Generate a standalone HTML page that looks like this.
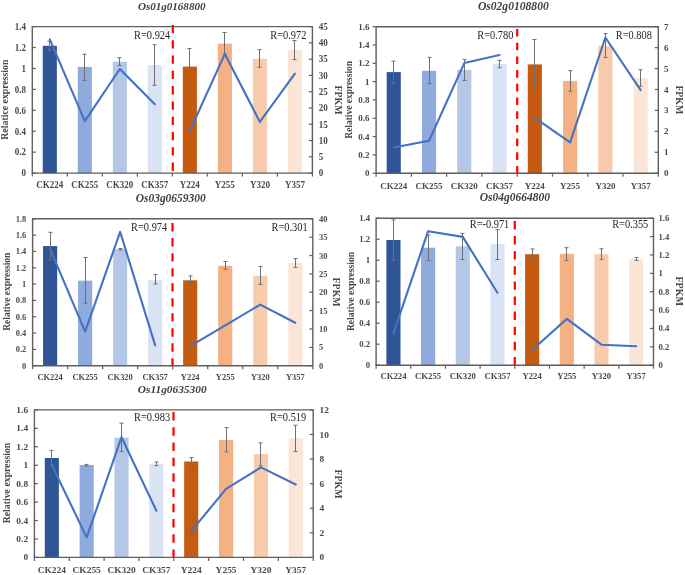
<!DOCTYPE html>
<html><head><meta charset="utf-8"><style>
html,body{margin:0;padding:0;background:#fff;width:685px;height:575px;overflow:hidden}
svg{display:block;will-change:transform}
text{font-family:"Liberation Serif", serif}
</style></head><body>
<svg width="685" height="575" viewBox="0 0 685 575">
<rect width="685" height="575" fill="#fff"/>
<g><rect x="42.76" y="45.8" width="14.1" height="127.3" fill="#2F5597"/><rect x="77.77" y="66.9" width="14.1" height="106.2" fill="#8FAADC"/><rect x="112.78" y="61.6" width="14.1" height="111.5" fill="#B4C7E7"/><rect x="147.79" y="65.1" width="14.1" height="108" fill="#DAE3F3"/><rect x="182.81" y="66.6" width="14.1" height="106.5" fill="#C55A11"/><rect x="217.82" y="43.6" width="14.1" height="129.5" fill="#F4B183"/><rect x="252.83" y="58.8" width="14.1" height="114.3" fill="#F8CBAD"/><rect x="287.84" y="50.2" width="14.1" height="122.9" fill="#FBE5D6"/><path d="M49.5 41.2V50.2M47.5 41.2H51.5M47.5 50.2H51.5" stroke="#707070" stroke-width="1" fill="none"/><path d="M84.5 54.2V80.4M82.5 54.2H86.5M82.5 80.4H86.5" stroke="#707070" stroke-width="1" fill="none"/><path d="M119.5 57.7V65.5M117.5 57.7H121.5M117.5 65.5H121.5" stroke="#707070" stroke-width="1" fill="none"/><path d="M154.5 44.7V85.3M152.5 44.7H156.5M152.5 85.3H156.5" stroke="#707070" stroke-width="1" fill="none"/><path d="M189.5 48.5V84.8M187.5 48.5H191.5M187.5 84.8H191.5" stroke="#707070" stroke-width="1" fill="none"/><path d="M224.5 32.5V53.9M222.5 32.5H226.5M222.5 53.9H226.5" stroke="#707070" stroke-width="1" fill="none"/><path d="M259.5 49.6V67.3M257.5 49.6H261.5M257.5 67.3H261.5" stroke="#707070" stroke-width="1" fill="none"/><path d="M294.5 40.6V59.6M292.5 40.6H296.5M292.5 59.6H296.5" stroke="#707070" stroke-width="1" fill="none"/><polyline points="49.81,39.3 84.82,121.2 119.83,69 154.84,104.3" fill="none" stroke="#4472C4" stroke-width="2.1" stroke-linejoin="round" stroke-linecap="round"/><polyline points="189.86,130.7 224.87,53.9 259.88,121.9 294.89,73.6" fill="none" stroke="#4472C4" stroke-width="2.1" stroke-linejoin="round" stroke-linecap="round"/><path d="M32.3 26.6V173.1H312.4V26.6Z" fill="none" stroke="#5F5F5F" stroke-width="1.4"/><path d="M32.3 173.1h3.5" stroke="#5F5F5F" stroke-width="1.2"/><text transform="translate(26 176.36) scale(0.94 1)" text-anchor="end" font-size="9.6" font-weight="bold" fill="#4A4A4A">0</text><path d="M32.3 152.17h3.5" stroke="#5F5F5F" stroke-width="1.2"/><text transform="translate(26 155.44) scale(0.94 1)" text-anchor="end" font-size="9.6" font-weight="bold" fill="#4A4A4A">0.2</text><path d="M32.3 131.24h3.5" stroke="#5F5F5F" stroke-width="1.2"/><text transform="translate(26 134.51) scale(0.94 1)" text-anchor="end" font-size="9.6" font-weight="bold" fill="#4A4A4A">0.4</text><path d="M32.3 110.31h3.5" stroke="#5F5F5F" stroke-width="1.2"/><text transform="translate(26 113.58) scale(0.94 1)" text-anchor="end" font-size="9.6" font-weight="bold" fill="#4A4A4A">0.6</text><path d="M32.3 89.39h3.5" stroke="#5F5F5F" stroke-width="1.2"/><text transform="translate(26 92.65) scale(0.94 1)" text-anchor="end" font-size="9.6" font-weight="bold" fill="#4A4A4A">0.8</text><path d="M32.3 68.46h3.5" stroke="#5F5F5F" stroke-width="1.2"/><text transform="translate(26 71.72) scale(0.94 1)" text-anchor="end" font-size="9.6" font-weight="bold" fill="#4A4A4A">1</text><path d="M32.3 47.53h3.5" stroke="#5F5F5F" stroke-width="1.2"/><text transform="translate(26 50.79) scale(0.94 1)" text-anchor="end" font-size="9.6" font-weight="bold" fill="#4A4A4A">1.2</text><path d="M32.3 26.6h3.5" stroke="#5F5F5F" stroke-width="1.2"/><text transform="translate(26 29.86) scale(0.94 1)" text-anchor="end" font-size="9.6" font-weight="bold" fill="#4A4A4A">1.4</text><path d="M312.4 173.1h-3.5" stroke="#5F5F5F" stroke-width="1.2"/><text transform="translate(318.7 176.36) scale(0.94 1)" text-anchor="start" font-size="9.6" font-weight="bold" fill="#4A4A4A">0</text><path d="M312.4 156.82h-3.5" stroke="#5F5F5F" stroke-width="1.2"/><text transform="translate(318.7 160.09) scale(0.94 1)" text-anchor="start" font-size="9.6" font-weight="bold" fill="#4A4A4A">5</text><path d="M312.4 140.54h-3.5" stroke="#5F5F5F" stroke-width="1.2"/><text transform="translate(318.7 143.81) scale(0.94 1)" text-anchor="start" font-size="9.6" font-weight="bold" fill="#4A4A4A">10</text><path d="M312.4 124.27h-3.5" stroke="#5F5F5F" stroke-width="1.2"/><text transform="translate(318.7 127.53) scale(0.94 1)" text-anchor="start" font-size="9.6" font-weight="bold" fill="#4A4A4A">15</text><path d="M312.4 107.99h-3.5" stroke="#5F5F5F" stroke-width="1.2"/><text transform="translate(318.7 111.25) scale(0.94 1)" text-anchor="start" font-size="9.6" font-weight="bold" fill="#4A4A4A">20</text><path d="M312.4 91.71h-3.5" stroke="#5F5F5F" stroke-width="1.2"/><text transform="translate(318.7 94.98) scale(0.94 1)" text-anchor="start" font-size="9.6" font-weight="bold" fill="#4A4A4A">25</text><path d="M312.4 75.43h-3.5" stroke="#5F5F5F" stroke-width="1.2"/><text transform="translate(318.7 78.7) scale(0.94 1)" text-anchor="start" font-size="9.6" font-weight="bold" fill="#4A4A4A">30</text><path d="M312.4 59.16h-3.5" stroke="#5F5F5F" stroke-width="1.2"/><text transform="translate(318.7 62.42) scale(0.94 1)" text-anchor="start" font-size="9.6" font-weight="bold" fill="#4A4A4A">35</text><path d="M312.4 42.88h-3.5" stroke="#5F5F5F" stroke-width="1.2"/><text transform="translate(318.7 46.14) scale(0.94 1)" text-anchor="start" font-size="9.6" font-weight="bold" fill="#4A4A4A">40</text><path d="M312.4 26.6h-3.5" stroke="#5F5F5F" stroke-width="1.2"/><text transform="translate(318.7 29.86) scale(0.94 1)" text-anchor="start" font-size="9.6" font-weight="bold" fill="#4A4A4A">45</text><path d="M32.3 173.1v3.5" stroke="#5F5F5F" stroke-width="1.2"/><path d="M67.31 173.1v3.5" stroke="#5F5F5F" stroke-width="1.2"/><path d="M102.32 173.1v3.5" stroke="#5F5F5F" stroke-width="1.2"/><path d="M137.34 173.1v3.5" stroke="#5F5F5F" stroke-width="1.2"/><path d="M172.35 173.1v3.5" stroke="#5F5F5F" stroke-width="1.2"/><path d="M207.36 173.1v3.5" stroke="#5F5F5F" stroke-width="1.2"/><path d="M242.38 173.1v3.5" stroke="#5F5F5F" stroke-width="1.2"/><path d="M277.39 173.1v3.5" stroke="#5F5F5F" stroke-width="1.2"/><path d="M312.4 173.1v3.5" stroke="#5F5F5F" stroke-width="1.2"/><text transform="translate(49.81 188.2) scale(0.94 1)" text-anchor="middle" font-size="9.6" font-weight="bold" fill="#4A4A4A">CK224</text><text transform="translate(84.82 188.2) scale(0.94 1)" text-anchor="middle" font-size="9.6" font-weight="bold" fill="#4A4A4A">CK255</text><text transform="translate(119.83 188.2) scale(0.94 1)" text-anchor="middle" font-size="9.6" font-weight="bold" fill="#4A4A4A">CK320</text><text transform="translate(154.84 188.2) scale(0.94 1)" text-anchor="middle" font-size="9.6" font-weight="bold" fill="#4A4A4A">CK357</text><text transform="translate(189.86 188.2) scale(0.94 1)" text-anchor="middle" font-size="9.6" font-weight="bold" fill="#4A4A4A">Y224</text><text transform="translate(224.87 188.2) scale(0.94 1)" text-anchor="middle" font-size="9.6" font-weight="bold" fill="#4A4A4A">Y255</text><text transform="translate(259.88 188.2) scale(0.94 1)" text-anchor="middle" font-size="9.6" font-weight="bold" fill="#4A4A4A">Y320</text><text transform="translate(294.89 188.2) scale(0.94 1)" text-anchor="middle" font-size="9.6" font-weight="bold" fill="#4A4A4A">Y357</text><path d="M172.8 24.9V173.1" stroke="#FF0000" stroke-width="2.2" stroke-dasharray="8.3 7"/><text transform="translate(170.2 39) scale(0.88 1)" text-anchor="end" font-size="11.8" fill="#262626">R=0.924</text><text transform="translate(306.4 39) scale(0.88 1)" text-anchor="end" font-size="11.8" fill="#262626">R=0.972</text><text transform="translate(171.7 9.7)" text-anchor="middle" font-size="11.05" font-weight="bold" font-style="italic" fill="#404040">Os01g0168800</text><text transform="translate(8.4 99.6) rotate(-90)" text-anchor="middle" font-size="9.8" font-weight="bold" fill="#4A4A4A">Relatice expression</text><text transform="translate(335 100) rotate(90)" text-anchor="middle" font-size="9.8" font-weight="bold" fill="#4A4A4A">FPKM</text></g>
<g><rect x="386.69" y="72.1" width="14.1" height="101.1" fill="#2F5597"/><rect x="421.96" y="70.8" width="14.1" height="102.4" fill="#8FAADC"/><rect x="457.24" y="69.9" width="14.1" height="103.3" fill="#B4C7E7"/><rect x="492.51" y="63.8" width="14.1" height="109.4" fill="#DAE3F3"/><rect x="527.79" y="64.4" width="14.1" height="108.8" fill="#C55A11"/><rect x="563.06" y="80.9" width="14.1" height="92.3" fill="#F4B183"/><rect x="598.34" y="45.8" width="14.1" height="127.4" fill="#F8CBAD"/><rect x="633.61" y="78" width="14.1" height="95.2" fill="#FBE5D6"/><path d="M393.5 61.2V83.5M391.5 61.2H395.5M391.5 83.5H395.5" stroke="#707070" stroke-width="1" fill="none"/><path d="M429.5 57.4V83.5M427.5 57.4H431.5M427.5 83.5H431.5" stroke="#707070" stroke-width="1" fill="none"/><path d="M464.5 59.4V80.4M462.5 59.4H466.5M462.5 80.4H466.5" stroke="#707070" stroke-width="1" fill="none"/><path d="M499.5 60.3V67.7M497.5 60.3H501.5M497.5 67.7H501.5" stroke="#707070" stroke-width="1" fill="none"/><path d="M534.5 39.5V89.2M532.5 39.5H536.5M532.5 89.2H536.5" stroke="#707070" stroke-width="1" fill="none"/><path d="M570.5 70.6V91.2M568.5 70.6H572.5M568.5 91.2H572.5" stroke="#707070" stroke-width="1" fill="none"/><path d="M605.5 33.6V57.4M603.5 33.6H607.5M603.5 57.4H607.5" stroke="#707070" stroke-width="1" fill="none"/><path d="M640.5 69.7V86.3M638.5 69.7H642.5M638.5 86.3H642.5" stroke="#707070" stroke-width="1" fill="none"/><polyline points="393.74,147.5 429.01,140.7 464.29,63.1 499.56,55" fill="none" stroke="#4472C4" stroke-width="2.1" stroke-linejoin="round" stroke-linecap="round"/><polyline points="534.84,117.9 570.11,142.4 605.39,37.5 640.66,90.1" fill="none" stroke="#4472C4" stroke-width="2.1" stroke-linejoin="round" stroke-linecap="round"/><path d="M376.1 26.7V173.2H658.3V26.7Z" fill="none" stroke="#5F5F5F" stroke-width="1.4"/><path d="M376.1 173.2h-3.5" stroke="#5F5F5F" stroke-width="1.2"/><text transform="translate(369.4 176.26) scale(1.0 1)" text-anchor="end" font-size="9.0" font-weight="bold" fill="#4A4A4A">0</text><path d="M376.1 154.89h-3.5" stroke="#5F5F5F" stroke-width="1.2"/><text transform="translate(369.4 157.95) scale(1.0 1)" text-anchor="end" font-size="9.0" font-weight="bold" fill="#4A4A4A">0.2</text><path d="M376.1 136.57h-3.5" stroke="#5F5F5F" stroke-width="1.2"/><text transform="translate(369.4 139.63) scale(1.0 1)" text-anchor="end" font-size="9.0" font-weight="bold" fill="#4A4A4A">0.4</text><path d="M376.1 118.26h-3.5" stroke="#5F5F5F" stroke-width="1.2"/><text transform="translate(369.4 121.32) scale(1.0 1)" text-anchor="end" font-size="9.0" font-weight="bold" fill="#4A4A4A">0.6</text><path d="M376.1 99.95h-3.5" stroke="#5F5F5F" stroke-width="1.2"/><text transform="translate(369.4 103.01) scale(1.0 1)" text-anchor="end" font-size="9.0" font-weight="bold" fill="#4A4A4A">0.8</text><path d="M376.1 81.64h-3.5" stroke="#5F5F5F" stroke-width="1.2"/><text transform="translate(369.4 84.7) scale(1.0 1)" text-anchor="end" font-size="9.0" font-weight="bold" fill="#4A4A4A">1</text><path d="M376.1 63.32h-3.5" stroke="#5F5F5F" stroke-width="1.2"/><text transform="translate(369.4 66.38) scale(1.0 1)" text-anchor="end" font-size="9.0" font-weight="bold" fill="#4A4A4A">1.2</text><path d="M376.1 45.01h-3.5" stroke="#5F5F5F" stroke-width="1.2"/><text transform="translate(369.4 48.07) scale(1.0 1)" text-anchor="end" font-size="9.0" font-weight="bold" fill="#4A4A4A">1.4</text><path d="M376.1 26.7h-3.5" stroke="#5F5F5F" stroke-width="1.2"/><text transform="translate(369.4 29.76) scale(1.0 1)" text-anchor="end" font-size="9.0" font-weight="bold" fill="#4A4A4A">1.6</text><path d="M658.3 173.2h-3.5" stroke="#5F5F5F" stroke-width="1.2"/><text transform="translate(663.9 176.26) scale(1.0 1)" text-anchor="start" font-size="9.0" font-weight="bold" fill="#4A4A4A">0</text><path d="M658.3 152.27h-3.5" stroke="#5F5F5F" stroke-width="1.2"/><text transform="translate(663.9 155.33) scale(1.0 1)" text-anchor="start" font-size="9.0" font-weight="bold" fill="#4A4A4A">1</text><path d="M658.3 131.34h-3.5" stroke="#5F5F5F" stroke-width="1.2"/><text transform="translate(663.9 134.4) scale(1.0 1)" text-anchor="start" font-size="9.0" font-weight="bold" fill="#4A4A4A">2</text><path d="M658.3 110.41h-3.5" stroke="#5F5F5F" stroke-width="1.2"/><text transform="translate(663.9 113.47) scale(1.0 1)" text-anchor="start" font-size="9.0" font-weight="bold" fill="#4A4A4A">3</text><path d="M658.3 89.49h-3.5" stroke="#5F5F5F" stroke-width="1.2"/><text transform="translate(663.9 92.55) scale(1.0 1)" text-anchor="start" font-size="9.0" font-weight="bold" fill="#4A4A4A">4</text><path d="M658.3 68.56h-3.5" stroke="#5F5F5F" stroke-width="1.2"/><text transform="translate(663.9 71.62) scale(1.0 1)" text-anchor="start" font-size="9.0" font-weight="bold" fill="#4A4A4A">5</text><path d="M658.3 47.63h-3.5" stroke="#5F5F5F" stroke-width="1.2"/><text transform="translate(663.9 50.69) scale(1.0 1)" text-anchor="start" font-size="9.0" font-weight="bold" fill="#4A4A4A">6</text><path d="M658.3 26.7h-3.5" stroke="#5F5F5F" stroke-width="1.2"/><text transform="translate(663.9 29.76) scale(1.0 1)" text-anchor="start" font-size="9.0" font-weight="bold" fill="#4A4A4A">7</text><path d="M376.1 173.2v3.5" stroke="#5F5F5F" stroke-width="1.2"/><path d="M411.38 173.2v3.5" stroke="#5F5F5F" stroke-width="1.2"/><path d="M446.65 173.2v3.5" stroke="#5F5F5F" stroke-width="1.2"/><path d="M481.93 173.2v3.5" stroke="#5F5F5F" stroke-width="1.2"/><path d="M517.2 173.2v3.5" stroke="#5F5F5F" stroke-width="1.2"/><path d="M552.47 173.2v3.5" stroke="#5F5F5F" stroke-width="1.2"/><path d="M587.75 173.2v3.5" stroke="#5F5F5F" stroke-width="1.2"/><path d="M623.02 173.2v3.5" stroke="#5F5F5F" stroke-width="1.2"/><path d="M658.3 173.2v3.5" stroke="#5F5F5F" stroke-width="1.2"/><text transform="translate(393.74 188.6) scale(1.0 1)" text-anchor="middle" font-size="9.0" font-weight="bold" fill="#4A4A4A">CK224</text><text transform="translate(429.01 188.6) scale(1.0 1)" text-anchor="middle" font-size="9.0" font-weight="bold" fill="#4A4A4A">CK255</text><text transform="translate(464.29 188.6) scale(1.0 1)" text-anchor="middle" font-size="9.0" font-weight="bold" fill="#4A4A4A">CK320</text><text transform="translate(499.56 188.6) scale(1.0 1)" text-anchor="middle" font-size="9.0" font-weight="bold" fill="#4A4A4A">CK357</text><text transform="translate(534.84 188.6) scale(1.0 1)" text-anchor="middle" font-size="9.0" font-weight="bold" fill="#4A4A4A">Y224</text><text transform="translate(570.11 188.6) scale(1.0 1)" text-anchor="middle" font-size="9.0" font-weight="bold" fill="#4A4A4A">Y255</text><text transform="translate(605.39 188.6) scale(1.0 1)" text-anchor="middle" font-size="9.0" font-weight="bold" fill="#4A4A4A">Y320</text><text transform="translate(640.66 188.6) scale(1.0 1)" text-anchor="middle" font-size="9.0" font-weight="bold" fill="#4A4A4A">Y357</text><path d="M517.2 29V173.2" stroke="#FF0000" stroke-width="2.2" stroke-dasharray="7.6 6.1"/><text transform="translate(513.4 38.6) scale(0.88 1)" text-anchor="end" font-size="11.8" fill="#262626">R=0.780</text><text transform="translate(651.9 38.6) scale(0.88 1)" text-anchor="end" font-size="11.8" fill="#262626">R=0.808</text><text transform="translate(513.3 9.7)" text-anchor="middle" font-size="11.6" font-weight="bold" font-style="italic" fill="#404040">Os02g0108800</text><text transform="translate(351.6 99.8) rotate(-90)" text-anchor="middle" font-size="9.45" font-weight="bold" fill="#4A4A4A">Relative expression</text><text transform="translate(676 99.8) rotate(90)" text-anchor="middle" font-size="9.8" font-weight="bold" fill="#4A4A4A">FPKM</text></g>
<g><rect x="43.06" y="246.1" width="14.1" height="119.6" fill="#2F5597"/><rect x="78.09" y="280.7" width="14.1" height="85" fill="#8FAADC"/><rect x="113.11" y="249" width="14.1" height="116.7" fill="#B4C7E7"/><rect x="148.14" y="280.1" width="14.1" height="85.6" fill="#DAE3F3"/><rect x="183.16" y="280.3" width="14.1" height="85.4" fill="#C55A11"/><rect x="218.19" y="265.8" width="14.1" height="99.9" fill="#F4B183"/><rect x="253.21" y="275.7" width="14.1" height="90" fill="#F8CBAD"/><rect x="288.24" y="263" width="14.1" height="102.7" fill="#FBE5D6"/><path d="M50.5 232.3V259.9M48.5 232.3H52.5M48.5 259.9H52.5" stroke="#707070" stroke-width="1" fill="none"/><path d="M85.5 257.5V303.1M83.5 257.5H87.5M83.5 303.1H87.5" stroke="#707070" stroke-width="1" fill="none"/><path d="M120.5 248.5V250.1M118.5 248.5H122.5M118.5 250.1H122.5" stroke="#707070" stroke-width="1" fill="none"/><path d="M155.5 274.6V284M153.5 274.6H157.5M153.5 284H157.5" stroke="#707070" stroke-width="1" fill="none"/><path d="M190.5 275.9V284M188.5 275.9H192.5M188.5 284H192.5" stroke="#707070" stroke-width="1" fill="none"/><path d="M225.5 261.5V269.1M223.5 261.5H227.5M223.5 269.1H227.5" stroke="#707070" stroke-width="1" fill="none"/><path d="M260.5 266.5V284.4M258.5 266.5H262.5M258.5 284.4H262.5" stroke="#707070" stroke-width="1" fill="none"/><path d="M295.5 258.6V267.4M293.5 258.6H297.5M293.5 267.4H297.5" stroke="#707070" stroke-width="1" fill="none"/><polyline points="50.11,249 85.14,331.6 120.16,231.9 155.19,345.4" fill="none" stroke="#4472C4" stroke-width="2.1" stroke-linejoin="round" stroke-linecap="round"/><polyline points="190.21,346.2 225.24,325.4 260.26,304.6 295.29,322.7" fill="none" stroke="#4472C4" stroke-width="2.1" stroke-linejoin="round" stroke-linecap="round"/><path d="M32.6 218.8V365.7H312.8V218.8Z" fill="none" stroke="#5F5F5F" stroke-width="1.4"/><path d="M32.6 365.7h3.5" stroke="#5F5F5F" stroke-width="1.2"/><text transform="translate(26.3 368.69) scale(0.96 1)" text-anchor="end" font-size="8.8" font-weight="bold" fill="#4A4A4A">0</text><path d="M32.6 349.38h3.5" stroke="#5F5F5F" stroke-width="1.2"/><text transform="translate(26.3 352.37) scale(0.96 1)" text-anchor="end" font-size="8.8" font-weight="bold" fill="#4A4A4A">0.2</text><path d="M32.6 333.06h3.5" stroke="#5F5F5F" stroke-width="1.2"/><text transform="translate(26.3 336.05) scale(0.96 1)" text-anchor="end" font-size="8.8" font-weight="bold" fill="#4A4A4A">0.4</text><path d="M32.6 316.73h3.5" stroke="#5F5F5F" stroke-width="1.2"/><text transform="translate(26.3 319.73) scale(0.96 1)" text-anchor="end" font-size="8.8" font-weight="bold" fill="#4A4A4A">0.6</text><path d="M32.6 300.41h3.5" stroke="#5F5F5F" stroke-width="1.2"/><text transform="translate(26.3 303.4) scale(0.96 1)" text-anchor="end" font-size="8.8" font-weight="bold" fill="#4A4A4A">0.8</text><path d="M32.6 284.09h3.5" stroke="#5F5F5F" stroke-width="1.2"/><text transform="translate(26.3 287.08) scale(0.96 1)" text-anchor="end" font-size="8.8" font-weight="bold" fill="#4A4A4A">1</text><path d="M32.6 267.77h3.5" stroke="#5F5F5F" stroke-width="1.2"/><text transform="translate(26.3 270.76) scale(0.96 1)" text-anchor="end" font-size="8.8" font-weight="bold" fill="#4A4A4A">1.2</text><path d="M32.6 251.44h3.5" stroke="#5F5F5F" stroke-width="1.2"/><text transform="translate(26.3 254.44) scale(0.96 1)" text-anchor="end" font-size="8.8" font-weight="bold" fill="#4A4A4A">1.4</text><path d="M32.6 235.12h3.5" stroke="#5F5F5F" stroke-width="1.2"/><text transform="translate(26.3 238.11) scale(0.96 1)" text-anchor="end" font-size="8.8" font-weight="bold" fill="#4A4A4A">1.6</text><path d="M32.6 218.8h3.5" stroke="#5F5F5F" stroke-width="1.2"/><text transform="translate(26.3 221.79) scale(0.96 1)" text-anchor="end" font-size="8.8" font-weight="bold" fill="#4A4A4A">1.8</text><path d="M312.8 365.7h-3.5" stroke="#5F5F5F" stroke-width="1.2"/><text transform="translate(319.1 368.69) scale(0.96 1)" text-anchor="start" font-size="8.8" font-weight="bold" fill="#4A4A4A">0</text><path d="M312.8 347.34h-3.5" stroke="#5F5F5F" stroke-width="1.2"/><text transform="translate(319.1 350.33) scale(0.96 1)" text-anchor="start" font-size="8.8" font-weight="bold" fill="#4A4A4A">5</text><path d="M312.8 328.98h-3.5" stroke="#5F5F5F" stroke-width="1.2"/><text transform="translate(319.1 331.97) scale(0.96 1)" text-anchor="start" font-size="8.8" font-weight="bold" fill="#4A4A4A">10</text><path d="M312.8 310.61h-3.5" stroke="#5F5F5F" stroke-width="1.2"/><text transform="translate(319.1 313.6) scale(0.96 1)" text-anchor="start" font-size="8.8" font-weight="bold" fill="#4A4A4A">15</text><path d="M312.8 292.25h-3.5" stroke="#5F5F5F" stroke-width="1.2"/><text transform="translate(319.1 295.24) scale(0.96 1)" text-anchor="start" font-size="8.8" font-weight="bold" fill="#4A4A4A">20</text><path d="M312.8 273.89h-3.5" stroke="#5F5F5F" stroke-width="1.2"/><text transform="translate(319.1 276.88) scale(0.96 1)" text-anchor="start" font-size="8.8" font-weight="bold" fill="#4A4A4A">25</text><path d="M312.8 255.53h-3.5" stroke="#5F5F5F" stroke-width="1.2"/><text transform="translate(319.1 258.52) scale(0.96 1)" text-anchor="start" font-size="8.8" font-weight="bold" fill="#4A4A4A">30</text><path d="M312.8 237.16h-3.5" stroke="#5F5F5F" stroke-width="1.2"/><text transform="translate(319.1 240.15) scale(0.96 1)" text-anchor="start" font-size="8.8" font-weight="bold" fill="#4A4A4A">35</text><path d="M312.8 218.8h-3.5" stroke="#5F5F5F" stroke-width="1.2"/><text transform="translate(319.1 221.79) scale(0.96 1)" text-anchor="start" font-size="8.8" font-weight="bold" fill="#4A4A4A">40</text><path d="M32.6 365.7v3.5" stroke="#5F5F5F" stroke-width="1.2"/><path d="M67.62 365.7v3.5" stroke="#5F5F5F" stroke-width="1.2"/><path d="M102.65 365.7v3.5" stroke="#5F5F5F" stroke-width="1.2"/><path d="M137.67 365.7v3.5" stroke="#5F5F5F" stroke-width="1.2"/><path d="M172.7 365.7v3.5" stroke="#5F5F5F" stroke-width="1.2"/><path d="M207.72 365.7v3.5" stroke="#5F5F5F" stroke-width="1.2"/><path d="M242.75 365.7v3.5" stroke="#5F5F5F" stroke-width="1.2"/><path d="M277.77 365.7v3.5" stroke="#5F5F5F" stroke-width="1.2"/><path d="M312.8 365.7v3.5" stroke="#5F5F5F" stroke-width="1.2"/><text transform="translate(50.11 379.6) scale(0.96 1)" text-anchor="middle" font-size="8.8" font-weight="bold" fill="#4A4A4A">CK224</text><text transform="translate(85.14 379.6) scale(0.96 1)" text-anchor="middle" font-size="8.8" font-weight="bold" fill="#4A4A4A">CK255</text><text transform="translate(120.16 379.6) scale(0.96 1)" text-anchor="middle" font-size="8.8" font-weight="bold" fill="#4A4A4A">CK320</text><text transform="translate(155.19 379.6) scale(0.96 1)" text-anchor="middle" font-size="8.8" font-weight="bold" fill="#4A4A4A">CK357</text><text transform="translate(190.21 379.6) scale(0.96 1)" text-anchor="middle" font-size="8.8" font-weight="bold" fill="#4A4A4A">Y224</text><text transform="translate(225.24 379.6) scale(0.96 1)" text-anchor="middle" font-size="8.8" font-weight="bold" fill="#4A4A4A">Y255</text><text transform="translate(260.26 379.6) scale(0.96 1)" text-anchor="middle" font-size="8.8" font-weight="bold" fill="#4A4A4A">Y320</text><text transform="translate(295.29 379.6) scale(0.96 1)" text-anchor="middle" font-size="8.8" font-weight="bold" fill="#4A4A4A">Y357</text><path d="M172.5 223.1V365.7" stroke="#FF0000" stroke-width="2.2" stroke-dasharray="8.4 6.62"/><text transform="translate(167.2 230.8) scale(0.88 1)" text-anchor="end" font-size="11.8" fill="#262626">R=0.974</text><text transform="translate(307.6 230.8) scale(0.88 1)" text-anchor="end" font-size="11.8" fill="#262626">R=0.301</text><text transform="translate(170.7 201.5)" text-anchor="middle" font-size="11.45" font-weight="bold" font-style="italic" fill="#404040">Os03g0659300</text><text transform="translate(9.9 291.7) rotate(-90)" text-anchor="middle" font-size="9.5" font-weight="bold" fill="#4A4A4A">Relative expression</text><text transform="translate(333.4 292.1) rotate(90)" text-anchor="middle" font-size="9.9" font-weight="bold" fill="#4A4A4A">FPKM</text></g>
<g><rect x="386.39" y="240" width="14.1" height="125.2" fill="#2F5597"/><rect x="421.06" y="247.7" width="14.1" height="117.5" fill="#8FAADC"/><rect x="455.74" y="246.3" width="14.1" height="118.9" fill="#B4C7E7"/><rect x="490.41" y="244.2" width="14.1" height="121" fill="#DAE3F3"/><rect x="525.09" y="254.2" width="14.1" height="111" fill="#C55A11"/><rect x="559.76" y="253.8" width="14.1" height="111.4" fill="#F4B183"/><rect x="594.44" y="254.2" width="14.1" height="111" fill="#F8CBAD"/><rect x="629.11" y="259.3" width="14.1" height="105.9" fill="#FBE5D6"/><path d="M393.5 219.9V260.4M391.5 219.9H395.5M391.5 260.4H395.5" stroke="#707070" stroke-width="1" fill="none"/><path d="M428.5 235V260.4M426.5 235H430.5M426.5 260.4H430.5" stroke="#707070" stroke-width="1" fill="none"/><path d="M462.5 233.4V259.5M460.5 233.4H464.5M460.5 259.5H464.5" stroke="#707070" stroke-width="1" fill="none"/><path d="M497.5 229.7V259.5M495.5 229.7H499.5M495.5 259.5H499.5" stroke="#707070" stroke-width="1" fill="none"/><path d="M532.5 249V259.3M530.5 249H534.5M530.5 259.3H534.5" stroke="#707070" stroke-width="1" fill="none"/><path d="M566.5 247.7V260.4M564.5 247.7H568.5M564.5 260.4H568.5" stroke="#707070" stroke-width="1" fill="none"/><path d="M601.5 248.8V259.3M599.5 248.8H603.5M599.5 259.3H603.5" stroke="#707070" stroke-width="1" fill="none"/><path d="M636.5 257.5V260.4M634.5 257.5H638.5M634.5 260.4H638.5" stroke="#707070" stroke-width="1" fill="none"/><polyline points="393.44,333.4 428.11,231.2 462.79,236.9 497.46,292.8" fill="none" stroke="#4472C4" stroke-width="2.1" stroke-linejoin="round" stroke-linecap="round"/><polyline points="532.14,350 566.81,318.9 601.49,344.7 636.16,346.2" fill="none" stroke="#4472C4" stroke-width="2.1" stroke-linejoin="round" stroke-linecap="round"/><path d="M376.1 218.2V365.2H653.5V218.2Z" fill="none" stroke="#5F5F5F" stroke-width="1.4"/><path d="M376.1 365.2h3.5" stroke="#5F5F5F" stroke-width="1.2"/><text transform="translate(370.2 368.16) scale(1.0 1)" text-anchor="end" font-size="8.7" font-weight="bold" fill="#4A4A4A">0</text><path d="M376.1 344.2h3.5" stroke="#5F5F5F" stroke-width="1.2"/><text transform="translate(370.2 347.16) scale(1.0 1)" text-anchor="end" font-size="8.7" font-weight="bold" fill="#4A4A4A">0.2</text><path d="M376.1 323.2h3.5" stroke="#5F5F5F" stroke-width="1.2"/><text transform="translate(370.2 326.16) scale(1.0 1)" text-anchor="end" font-size="8.7" font-weight="bold" fill="#4A4A4A">0.4</text><path d="M376.1 302.2h3.5" stroke="#5F5F5F" stroke-width="1.2"/><text transform="translate(370.2 305.16) scale(1.0 1)" text-anchor="end" font-size="8.7" font-weight="bold" fill="#4A4A4A">0.6</text><path d="M376.1 281.2h3.5" stroke="#5F5F5F" stroke-width="1.2"/><text transform="translate(370.2 284.16) scale(1.0 1)" text-anchor="end" font-size="8.7" font-weight="bold" fill="#4A4A4A">0.8</text><path d="M376.1 260.2h3.5" stroke="#5F5F5F" stroke-width="1.2"/><text transform="translate(370.2 263.16) scale(1.0 1)" text-anchor="end" font-size="8.7" font-weight="bold" fill="#4A4A4A">1</text><path d="M376.1 239.2h3.5" stroke="#5F5F5F" stroke-width="1.2"/><text transform="translate(370.2 242.16) scale(1.0 1)" text-anchor="end" font-size="8.7" font-weight="bold" fill="#4A4A4A">1.2</text><path d="M376.1 218.2h3.5" stroke="#5F5F5F" stroke-width="1.2"/><text transform="translate(370.2 221.16) scale(1.0 1)" text-anchor="end" font-size="8.7" font-weight="bold" fill="#4A4A4A">1.4</text><path d="M653.5 365.2h-3.5" stroke="#5F5F5F" stroke-width="1.2"/><text transform="translate(658.5 368.16) scale(1.0 1)" text-anchor="start" font-size="8.7" font-weight="bold" fill="#4A4A4A">0</text><path d="M653.5 346.82h-3.5" stroke="#5F5F5F" stroke-width="1.2"/><text transform="translate(658.5 349.78) scale(1.0 1)" text-anchor="start" font-size="8.7" font-weight="bold" fill="#4A4A4A">0.2</text><path d="M653.5 328.45h-3.5" stroke="#5F5F5F" stroke-width="1.2"/><text transform="translate(658.5 331.41) scale(1.0 1)" text-anchor="start" font-size="8.7" font-weight="bold" fill="#4A4A4A">0.4</text><path d="M653.5 310.07h-3.5" stroke="#5F5F5F" stroke-width="1.2"/><text transform="translate(658.5 313.03) scale(1.0 1)" text-anchor="start" font-size="8.7" font-weight="bold" fill="#4A4A4A">0.6</text><path d="M653.5 291.7h-3.5" stroke="#5F5F5F" stroke-width="1.2"/><text transform="translate(658.5 294.66) scale(1.0 1)" text-anchor="start" font-size="8.7" font-weight="bold" fill="#4A4A4A">0.8</text><path d="M653.5 273.32h-3.5" stroke="#5F5F5F" stroke-width="1.2"/><text transform="translate(658.5 276.28) scale(1.0 1)" text-anchor="start" font-size="8.7" font-weight="bold" fill="#4A4A4A">1</text><path d="M653.5 254.95h-3.5" stroke="#5F5F5F" stroke-width="1.2"/><text transform="translate(658.5 257.91) scale(1.0 1)" text-anchor="start" font-size="8.7" font-weight="bold" fill="#4A4A4A">1.2</text><path d="M653.5 236.57h-3.5" stroke="#5F5F5F" stroke-width="1.2"/><text transform="translate(658.5 239.53) scale(1.0 1)" text-anchor="start" font-size="8.7" font-weight="bold" fill="#4A4A4A">1.4</text><path d="M653.5 218.2h-3.5" stroke="#5F5F5F" stroke-width="1.2"/><text transform="translate(658.5 221.16) scale(1.0 1)" text-anchor="start" font-size="8.7" font-weight="bold" fill="#4A4A4A">1.6</text><path d="M376.1 365.2v3.5" stroke="#5F5F5F" stroke-width="1.2"/><path d="M410.78 365.2v3.5" stroke="#5F5F5F" stroke-width="1.2"/><path d="M445.45 365.2v3.5" stroke="#5F5F5F" stroke-width="1.2"/><path d="M480.12 365.2v3.5" stroke="#5F5F5F" stroke-width="1.2"/><path d="M514.8 365.2v3.5" stroke="#5F5F5F" stroke-width="1.2"/><path d="M549.48 365.2v3.5" stroke="#5F5F5F" stroke-width="1.2"/><path d="M584.15 365.2v3.5" stroke="#5F5F5F" stroke-width="1.2"/><path d="M618.83 365.2v3.5" stroke="#5F5F5F" stroke-width="1.2"/><path d="M653.5 365.2v3.5" stroke="#5F5F5F" stroke-width="1.2"/><text transform="translate(393.44 379) scale(1.0 1)" text-anchor="middle" font-size="8.7" font-weight="bold" fill="#4A4A4A">CK224</text><text transform="translate(428.11 379) scale(1.0 1)" text-anchor="middle" font-size="8.7" font-weight="bold" fill="#4A4A4A">CK255</text><text transform="translate(462.79 379) scale(1.0 1)" text-anchor="middle" font-size="8.7" font-weight="bold" fill="#4A4A4A">CK320</text><text transform="translate(497.46 379) scale(1.0 1)" text-anchor="middle" font-size="8.7" font-weight="bold" fill="#4A4A4A">CK357</text><text transform="translate(532.14 379) scale(1.0 1)" text-anchor="middle" font-size="8.7" font-weight="bold" fill="#4A4A4A">Y224</text><text transform="translate(566.81 379) scale(1.0 1)" text-anchor="middle" font-size="8.7" font-weight="bold" fill="#4A4A4A">Y255</text><text transform="translate(601.49 379) scale(1.0 1)" text-anchor="middle" font-size="8.7" font-weight="bold" fill="#4A4A4A">Y320</text><text transform="translate(636.16 379) scale(1.0 1)" text-anchor="middle" font-size="8.7" font-weight="bold" fill="#4A4A4A">Y357</text><path d="M514.8 221V365.2" stroke="#FF0000" stroke-width="2.2" stroke-dasharray="8.4 6.7"/><text transform="translate(509.3 228.1) scale(0.88 1)" text-anchor="end" font-size="11.8" fill="#262626">R=-0.971</text><text transform="translate(648.3 228.1) scale(0.88 1)" text-anchor="end" font-size="11.8" fill="#262626">R=0.355</text><text transform="translate(514.8 201.4)" text-anchor="middle" font-size="11.5" font-weight="bold" font-style="italic" fill="#404040">Os04g0664800</text><text transform="translate(354 291.5) rotate(-90)" text-anchor="middle" font-size="9.65" font-weight="bold" fill="#4A4A4A">Relative expression</text><text transform="translate(675.9 291.3) rotate(90)" text-anchor="middle" font-size="10.1" font-weight="bold" fill="#4A4A4A">FPKM</text></g>
<g><rect x="44.78" y="458" width="14.1" height="99.4" fill="#2F5597"/><rect x="79.63" y="465" width="14.1" height="92.4" fill="#8FAADC"/><rect x="114.48" y="437.7" width="14.1" height="119.7" fill="#B4C7E7"/><rect x="149.32" y="463.9" width="14.1" height="93.5" fill="#DAE3F3"/><rect x="184.18" y="461.5" width="14.1" height="95.9" fill="#C55A11"/><rect x="219.03" y="440" width="14.1" height="117.4" fill="#F4B183"/><rect x="253.88" y="454" width="14.1" height="103.4" fill="#F8CBAD"/><rect x="288.72" y="438.3" width="14.1" height="119.1" fill="#FBE5D6"/><path d="M51.5 450.4V464.6M49.5 450.4H53.5M49.5 464.6H53.5" stroke="#707070" stroke-width="1" fill="none"/><path d="M86.5 464.4V466.1M84.5 464.4H88.5M84.5 466.1H88.5" stroke="#707070" stroke-width="1" fill="none"/><path d="M121.5 423.2V451.5M119.5 423.2H123.5M119.5 451.5H123.5" stroke="#707070" stroke-width="1" fill="none"/><path d="M156.5 462V465.7M154.5 462H158.5M154.5 465.7H158.5" stroke="#707070" stroke-width="1" fill="none"/><path d="M191.5 457.6V465.3M189.5 457.6H193.5M189.5 465.3H193.5" stroke="#707070" stroke-width="1" fill="none"/><path d="M226.5 427.6V451.9M224.5 427.6H228.5M224.5 451.9H228.5" stroke="#707070" stroke-width="1" fill="none"/><path d="M260.5 442.9V465.7M258.5 442.9H262.5M258.5 465.7H262.5" stroke="#707070" stroke-width="1" fill="none"/><path d="M295.5 425.2V451.5M293.5 425.2H297.5M293.5 451.5H297.5" stroke="#707070" stroke-width="1" fill="none"/><polyline points="51.83,465 86.68,537.4 121.53,437.2 156.38,510.7" fill="none" stroke="#4472C4" stroke-width="2.1" stroke-linejoin="round" stroke-linecap="round"/><polyline points="191.23,531.1 226.08,488.9 260.93,467.4 295.77,484.5" fill="none" stroke="#4472C4" stroke-width="2.1" stroke-linejoin="round" stroke-linecap="round"/><path d="M34.4 409.9V557.4H313.2V409.9Z" fill="none" stroke="#5F5F5F" stroke-width="1.4"/><path d="M34.4 557.4h3.5" stroke="#5F5F5F" stroke-width="1.2"/><text transform="translate(28.1 560.43) scale(1.06 1)" text-anchor="end" font-size="8.9" font-weight="bold" fill="#4A4A4A">0</text><path d="M34.4 538.96h3.5" stroke="#5F5F5F" stroke-width="1.2"/><text transform="translate(28.1 541.99) scale(1.06 1)" text-anchor="end" font-size="8.9" font-weight="bold" fill="#4A4A4A">0.2</text><path d="M34.4 520.52h3.5" stroke="#5F5F5F" stroke-width="1.2"/><text transform="translate(28.1 523.55) scale(1.06 1)" text-anchor="end" font-size="8.9" font-weight="bold" fill="#4A4A4A">0.4</text><path d="M34.4 502.09h3.5" stroke="#5F5F5F" stroke-width="1.2"/><text transform="translate(28.1 505.11) scale(1.06 1)" text-anchor="end" font-size="8.9" font-weight="bold" fill="#4A4A4A">0.6</text><path d="M34.4 483.65h3.5" stroke="#5F5F5F" stroke-width="1.2"/><text transform="translate(28.1 486.68) scale(1.06 1)" text-anchor="end" font-size="8.9" font-weight="bold" fill="#4A4A4A">0.8</text><path d="M34.4 465.21h3.5" stroke="#5F5F5F" stroke-width="1.2"/><text transform="translate(28.1 468.24) scale(1.06 1)" text-anchor="end" font-size="8.9" font-weight="bold" fill="#4A4A4A">1</text><path d="M34.4 446.77h3.5" stroke="#5F5F5F" stroke-width="1.2"/><text transform="translate(28.1 449.8) scale(1.06 1)" text-anchor="end" font-size="8.9" font-weight="bold" fill="#4A4A4A">1.2</text><path d="M34.4 428.34h3.5" stroke="#5F5F5F" stroke-width="1.2"/><text transform="translate(28.1 431.36) scale(1.06 1)" text-anchor="end" font-size="8.9" font-weight="bold" fill="#4A4A4A">1.4</text><path d="M34.4 409.9h3.5" stroke="#5F5F5F" stroke-width="1.2"/><text transform="translate(28.1 412.93) scale(1.06 1)" text-anchor="end" font-size="8.9" font-weight="bold" fill="#4A4A4A">1.6</text><path d="M313.2 557.4h-3.5" stroke="#5F5F5F" stroke-width="1.2"/><text transform="translate(319.5 560.43) scale(1.06 1)" text-anchor="start" font-size="8.9" font-weight="bold" fill="#4A4A4A">0</text><path d="M313.2 532.82h-3.5" stroke="#5F5F5F" stroke-width="1.2"/><text transform="translate(319.5 535.84) scale(1.06 1)" text-anchor="start" font-size="8.9" font-weight="bold" fill="#4A4A4A">2</text><path d="M313.2 508.23h-3.5" stroke="#5F5F5F" stroke-width="1.2"/><text transform="translate(319.5 511.26) scale(1.06 1)" text-anchor="start" font-size="8.9" font-weight="bold" fill="#4A4A4A">4</text><path d="M313.2 483.65h-3.5" stroke="#5F5F5F" stroke-width="1.2"/><text transform="translate(319.5 486.68) scale(1.06 1)" text-anchor="start" font-size="8.9" font-weight="bold" fill="#4A4A4A">6</text><path d="M313.2 459.07h-3.5" stroke="#5F5F5F" stroke-width="1.2"/><text transform="translate(319.5 462.09) scale(1.06 1)" text-anchor="start" font-size="8.9" font-weight="bold" fill="#4A4A4A">8</text><path d="M313.2 434.48h-3.5" stroke="#5F5F5F" stroke-width="1.2"/><text transform="translate(319.5 437.51) scale(1.06 1)" text-anchor="start" font-size="8.9" font-weight="bold" fill="#4A4A4A">10</text><path d="M313.2 409.9h-3.5" stroke="#5F5F5F" stroke-width="1.2"/><text transform="translate(319.5 412.93) scale(1.06 1)" text-anchor="start" font-size="8.9" font-weight="bold" fill="#4A4A4A">12</text><path d="M34.4 557.4v3.5" stroke="#5F5F5F" stroke-width="1.2"/><path d="M69.25 557.4v3.5" stroke="#5F5F5F" stroke-width="1.2"/><path d="M104.1 557.4v3.5" stroke="#5F5F5F" stroke-width="1.2"/><path d="M138.95 557.4v3.5" stroke="#5F5F5F" stroke-width="1.2"/><path d="M173.8 557.4v3.5" stroke="#5F5F5F" stroke-width="1.2"/><path d="M208.65 557.4v3.5" stroke="#5F5F5F" stroke-width="1.2"/><path d="M243.5 557.4v3.5" stroke="#5F5F5F" stroke-width="1.2"/><path d="M278.35 557.4v3.5" stroke="#5F5F5F" stroke-width="1.2"/><path d="M313.2 557.4v3.5" stroke="#5F5F5F" stroke-width="1.2"/><text transform="translate(51.83 572.9) scale(1.06 1)" text-anchor="middle" font-size="8.9" font-weight="bold" fill="#4A4A4A">CK224</text><text transform="translate(86.68 572.9) scale(1.06 1)" text-anchor="middle" font-size="8.9" font-weight="bold" fill="#4A4A4A">CK255</text><text transform="translate(121.53 572.9) scale(1.06 1)" text-anchor="middle" font-size="8.9" font-weight="bold" fill="#4A4A4A">CK320</text><text transform="translate(156.38 572.9) scale(1.06 1)" text-anchor="middle" font-size="8.9" font-weight="bold" fill="#4A4A4A">CK357</text><text transform="translate(191.23 572.9) scale(1.06 1)" text-anchor="middle" font-size="8.9" font-weight="bold" fill="#4A4A4A">Y224</text><text transform="translate(226.08 572.9) scale(1.06 1)" text-anchor="middle" font-size="8.9" font-weight="bold" fill="#4A4A4A">Y255</text><text transform="translate(260.93 572.9) scale(1.06 1)" text-anchor="middle" font-size="8.9" font-weight="bold" fill="#4A4A4A">Y320</text><text transform="translate(295.77 572.9) scale(1.06 1)" text-anchor="middle" font-size="8.9" font-weight="bold" fill="#4A4A4A">Y357</text><path d="M173.5 412V557.4" stroke="#FF0000" stroke-width="2.2" stroke-dasharray="8.5 6.79"/><text transform="translate(170.1 420.8) scale(0.88 1)" text-anchor="end" font-size="11.8" fill="#262626">R=0.983</text><text transform="translate(306.2 420.8) scale(0.88 1)" text-anchor="end" font-size="11.8" fill="#262626">R=0.519</text><text transform="translate(172.2 392.6)" text-anchor="middle" font-size="11.35" font-weight="bold" font-style="italic" fill="#404040">Os11g0635300</text><text transform="translate(9.6 483) rotate(-90)" text-anchor="middle" font-size="9.8" font-weight="bold" fill="#4A4A4A">Relative expression</text><text transform="translate(335 484) rotate(90)" text-anchor="middle" font-size="9.8" font-weight="bold" fill="#4A4A4A">FPKM</text></g>
</svg>
</body></html>
